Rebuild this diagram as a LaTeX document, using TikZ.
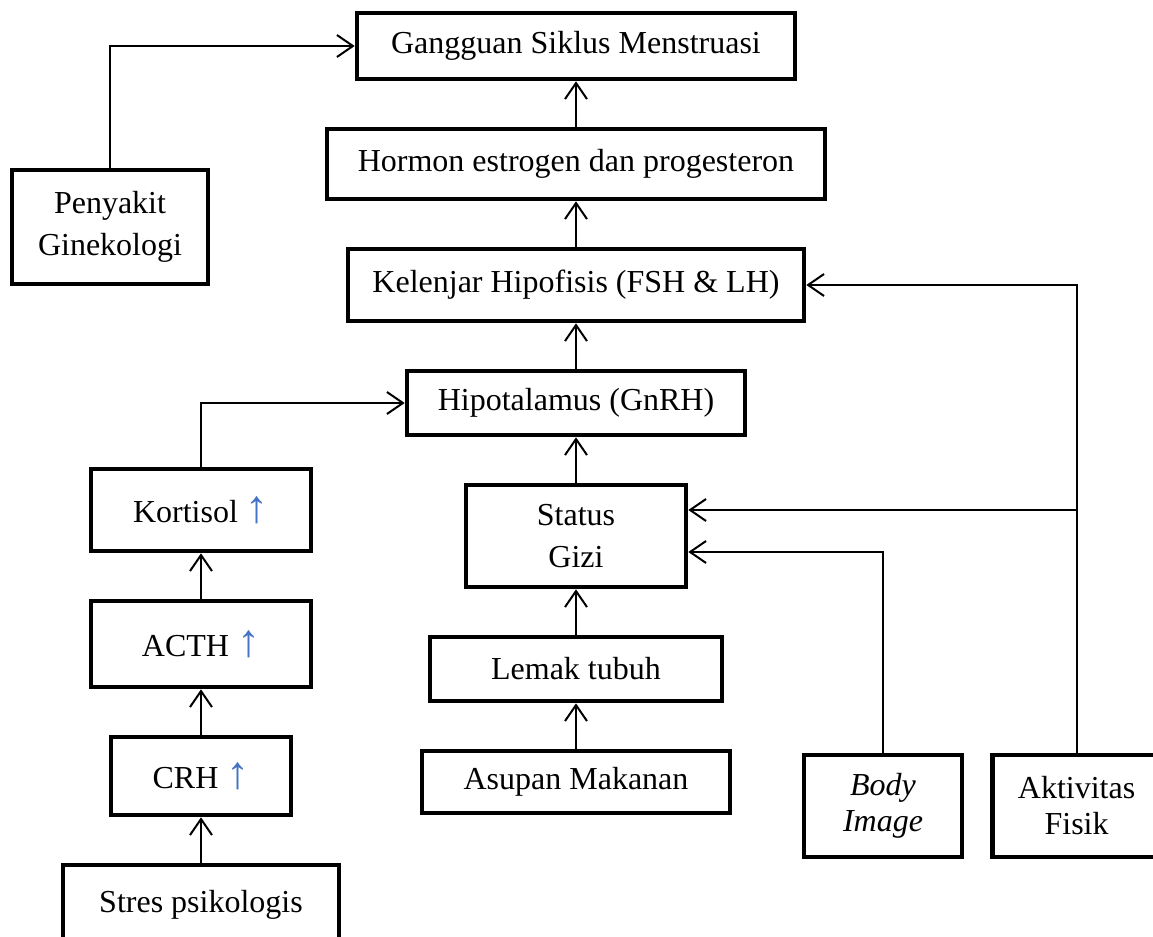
\documentclass[tikz,border=0pt]{standalone}
\usepackage{fontspec}
\setmainfont{Liberation Serif}
\usetikzlibrary{positioning,arrows.meta}
\definecolor{upblue}{RGB}{68,114,196}
\newcommand{\naik}{\textcolor{upblue}{\fontsize{23}{23}\selectfont ↑}}

\begin{document}
\begin{tikzpicture}[x=0.5pt, y=-0.5pt, node distance={22.7pt},
		main/.style = {draw, line width=2.3pt, inner sep=0pt, align=center, font=\fontsize{16}{21}\selectfont},
		link/.style = {-{Straight Barb[length=8pt,width=11pt]}, line width=1pt}]
		\useasboundingbox (0,0) rectangle (1153,937);
		% tengah
		\node[main, minimum width=154pt, minimum height=31pt] (1) at (576,782) {Asupan Makanan};
		\node[main, minimum width=146pt, minimum height=32pt] (2) [above=of 1] {Lemak tubuh};
		\node[main, minimum width=110pt, minimum height=51pt] (3) [above=of 2] {Status\\Gizi};
		\node[main, minimum width=169pt, minimum height=32pt] (4) [above=of 3] {Hipotalamus (GnRH)};
		\node[main, minimum width=228pt, minimum height=36pt] (5) [above=of 4] {Kelenjar Hipofisis (FSH \& LH)};
		\node[main, minimum width=249pt, minimum height=35pt] (6) [above=of 5] {Hormon estrogen dan progesteron};
		\node[main, minimum width=219pt, minimum height=33pt] (7) [above=of 6] {Gangguan Siklus Menstruasi};
		% kiri
		\node[main, minimum width=98pt, minimum height=57pt] (8) at (110,227) {Penyakit\\Ginekologi};
		\node[main, minimum width=138pt, minimum height=40pt] (9) at (201,905) {Stres psikologis};
		\node[main, minimum width=90pt, minimum height=39pt] (10) [above=of 9] {CRH \naik};
		\node[main, minimum width=110pt, minimum height=43pt] (11) [above=of 10] {ACTH \naik};
		\node[main, minimum width=110pt, minimum height=41pt] (12) [above=of 11] {Kortisol \naik};
		% kanan
		\node[main, minimum width=79pt, minimum height=51pt, font=\fontsize{16}{18}\selectfont] (13) at (883,806) {\textit{Body}\\\textit{Image}};
		\node[main, minimum width=84pt, minimum height=51pt, font=\fontsize{16}{18}\selectfont] (14) [right=13pt of 13] {Aktivitas\\Fisik};
		\coordinate (a) at ([yshift=13pt]3.east);
		\coordinate (b) at ([yshift=-8pt]3.east);
		\draw[link] (1) -- (2);
		\draw[link] (2) -- (3);
		\draw[link] (3) -- (4);
		\draw[link] (4) -- (5);
		\draw[link] (5) -- (6);
		\draw[link] (6) -- (7);
		\draw[link] (9) -- (10);
		\draw[link] (10) -- (11);
		\draw[link] (11) -- (12);
		\draw[link] (12) |- (4);
		\draw[link] (8) |- (7);
		\draw[link] (14) |- (5);
		\draw[link] (14 |- a) -- (a);
		\draw[link] (13) |- (b);
	\end{tikzpicture}
\end{document}
